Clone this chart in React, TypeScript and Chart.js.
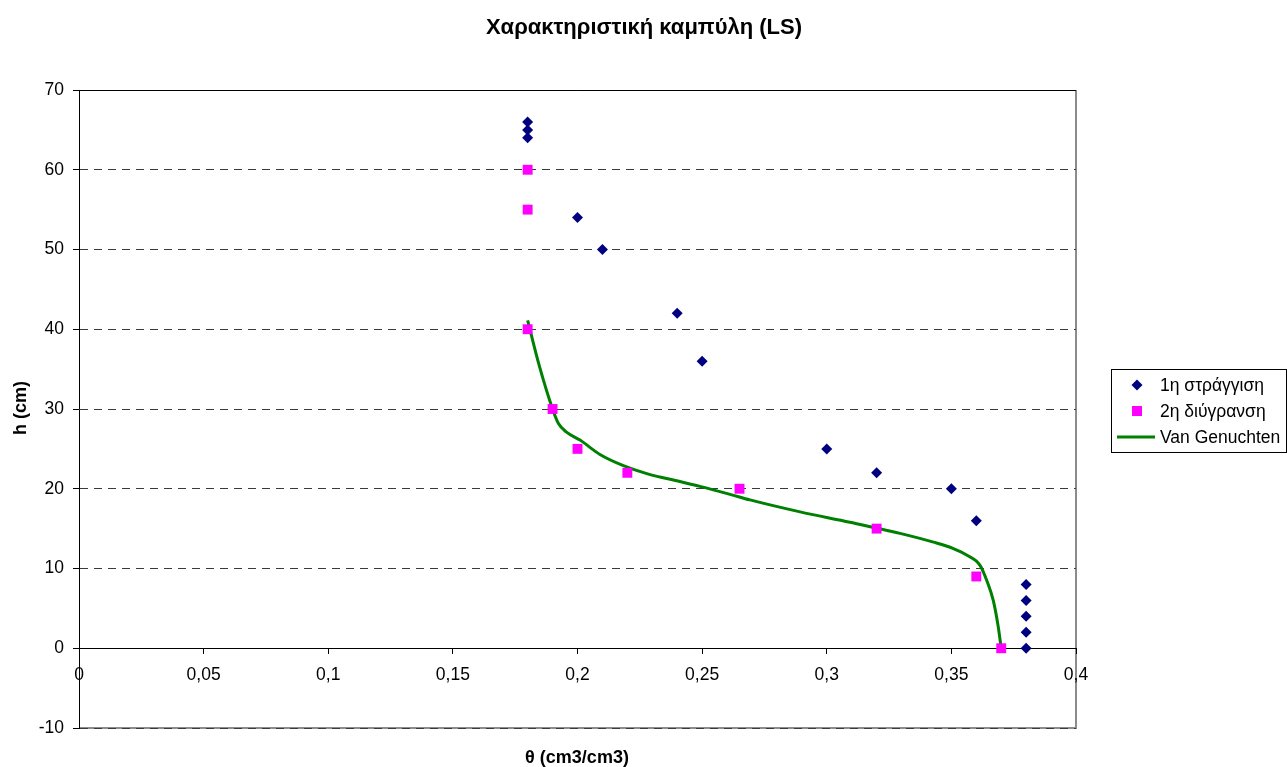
import React, { useEffect, useRef } from "react";
import { Chart, registerables } from "chart.js";

Chart.register(...registerables);

const FONT = "'Liberation Sans', Arial, sans-serif";

const titleText = "Χαρακτηριστική καμπύλη (LS)";
const xTitle = "θ (cm3/cm3)";
const yTitle = "h (cm)";

const seriesNames = ["1η στράγγιση", "2η διύγρανση", "Van Genuchten"];

// 1η στράγγιση
const drainTheta = [0.18, 0.18, 0.18, 0.2, 0.21, 0.24, 0.25, 0.3, 0.32, 0.35, 0.36, 0.38, 0.38, 0.38, 0.38, 0.38];
const drainH = [66, 65, 64, 54, 50, 42, 36, 25, 22, 20, 16, 8, 6, 4, 2, 0];

// 2η διύγρανση
const wetTheta = [0.18, 0.18, 0.18, 0.19, 0.2, 0.22, 0.265, 0.32, 0.36, 0.37];
const wetH = [60, 55, 40, 30, 25, 22, 20, 15, 9, 0];

// Van Genuchten fitted curve
const vgTheta = [0.18, 0.1846, 0.19, 0.1923, 0.1956, 0.201, 0.209, 0.2184, 0.2278, 0.2411, 0.2491, 0.2612, 0.2692, 0.2893, 0.3093, 0.3294, 0.3428, 0.3508, 0.3561, 0.3615, 0.3642, 0.3668, 0.3688, 0.3699];
const vgH = [41.1, 35.5, 30.0, 28.2, 27.1, 26.1, 24.3, 22.9, 21.9, 20.9, 20.3, 19.3, 18.6, 17.1, 15.8, 14.4, 13.3, 12.5, 11.7, 10.4, 8.5, 6.0, 2.7, 0.2];

const xMin = 0, xMax = 0.4, xStep = 0.05;
const yMin = -10, yMax = 70, yStep = 10;

const colors = ["#000080", "#FF00FF", "#008000"];

const toPts = (xs: number[], ys: number[]) => xs.map((x, i) => ({ x, y: ys[i] }));

const decoPlugin = {
  id: "deco",
  beforeDraw(chart: any) {
    const { ctx, chartArea } = chart;
    const { left, right, top, bottom } = chartArea;
    ctx.save();
    ctx.strokeStyle = "#8c8c8c";
    ctx.lineWidth = 2;
    ctx.beginPath();
    ctx.moveTo(Math.round(right), top);
    ctx.lineTo(Math.round(right), bottom + 1);
    ctx.moveTo(left, Math.round(bottom));
    ctx.lineTo(right, Math.round(bottom));
    ctx.stroke();
    ctx.restore();
  },
  beforeDatasetsDraw(chart: any) {
    const { ctx, chartArea } = chart;
    const { left, right, top } = chartArea;
    ctx.save();
    ctx.lineWidth = 1;
    ctx.strokeStyle = "#000";
    ctx.beginPath();
    ctx.moveTo(left, Math.round(top) + 0.5);
    ctx.lineTo(right, Math.round(top) + 0.5);
    ctx.stroke();
    ctx.restore();
  },
  afterDraw(chart: any) {
    const { ctx } = chart;
    ctx.save();
    ctx.fillStyle = "#000";
    ctx.textAlign = "center";
    ctx.textBaseline = "middle";
    ctx.font = `bold 22px ${FONT}`;
    ctx.fillText(titleText, 644, 28);
    ctx.font = `bold 18px ${FONT}`;
    ctx.fillText(xTitle, 577, 758);
    ctx.save();
    ctx.translate(21, 408);
    ctx.rotate(-Math.PI / 2);
    ctx.fillText(yTitle, 0, 0);
    ctx.restore();

    // legend
    const lx = 1111.5, ly = 369.5, lw = 175, lh = 83;
    ctx.strokeStyle = "#000";
    ctx.lineWidth = 1;
    ctx.strokeRect(lx, ly, lw, lh);
    ctx.font = `17.5px ${FONT}`;
    ctx.textAlign = "left";
    const rows = [385, 411, 437];
    const mx = 1137;
    seriesNames.forEach((name, i) => {
      const ry = rows[i];
      ctx.fillStyle = colors[i];
      if (i === 0) {
        ctx.beginPath();
        ctx.moveTo(mx, ry - 5.5);
        ctx.lineTo(mx + 5.5, ry);
        ctx.lineTo(mx, ry + 5.5);
        ctx.lineTo(mx - 5.5, ry);
        ctx.closePath();
        ctx.fill();
      } else if (i === 1) {
        ctx.fillRect(mx - 5, ry - 5, 10, 10);
      } else {
        ctx.strokeStyle = colors[i];
        ctx.lineWidth = 3;
        ctx.beginPath();
        ctx.moveTo(1117, ry);
        ctx.lineTo(1155, ry);
        ctx.stroke();
      }
      ctx.fillStyle = "#000";
      ctx.fillText(name, 1160, ry + 1);
    });
    ctx.restore();
  },
};

export default function App() {
  const ref = useRef<HTMLCanvasElement | null>(null);
  useEffect(() => {
    document.body.style.margin = "0";
    const canvas = ref.current;
    if (!canvas) return;
    const chart = new Chart(canvas, {
      type: "scatter",
      data: {
        datasets: [
          {
            label: seriesNames[0],
            data: toPts(drainTheta, drainH),
            backgroundColor: colors[0],
            borderColor: colors[0],
            pointStyle: "rectRot",
            pointRadius: 5.5,
            borderWidth: 0,
            showLine: false,
          },
          {
            label: seriesNames[1],
            data: toPts(wetTheta, wetH),
            backgroundColor: colors[1],
            borderColor: colors[1],
            pointStyle: "rect",
            pointRadius: 7,
            borderWidth: 0,
            showLine: false,
          },
          {
            label: seriesNames[2],
            data: toPts(vgTheta, vgH),
            borderColor: colors[2],
            backgroundColor: colors[2],
            borderWidth: 3,
            pointRadius: 0,
            showLine: true,
            cubicInterpolationMode: "monotone",
          } as any,
        ],
      },
      options: {
        responsive: false,
        animation: false,
        events: [],
        layout: { padding: { top: 90, right: 211, bottom: 39, left: 0 } },
        plugins: {
          legend: { display: false },
          title: { display: false },
          tooltip: { enabled: false },
        },
        scales: {
          x: {
            type: "linear",
            position: { y: 0 } as any,
            min: xMin,
            max: xMax,
            ticks: {
              stepSize: xStep,
              color: "#000",
              font: { family: FONT, size: 17.5 },
              padding: 11,
              maxRotation: 0,
              callback: (v: any) => String(Math.round(Number(v) * 100) / 100).replace(".", ","),
            },
            grid: {
              drawOnChartArea: false,
              drawTicks: true,
              tickLength: 5,
              color: "#000",
              tickColor: "#000",
            },
            border: { display: true, color: "#000", width: 1 },
          },
          y: {
            type: "linear",
            min: yMin,
            max: yMax,
            afterFit: (s: any) => {
              s.width = 79;
            },
            ticks: {
              stepSize: yStep,
              color: "#000",
              font: { family: FONT, size: 17.5 },
              padding: 9,
            },
            grid: {
              drawOnChartArea: true,
              drawTicks: true,
              tickLength: 6,
              color: (c: any) => (c.tick && c.tick.value === 0 ? "rgba(0,0,0,0)" : "#3a3a3a"),
              tickColor: "#000",
              tickBorderDash: [],
              lineWidth: 1,
            } as any,
            border: { display: true, color: "#000", width: 1, dash: [8, 6] } as any,
          },
        },
      },
      plugins: [decoPlugin],
    });
    return () => chart.destroy();
  }, []);
  return (
    <div style={{ width: 1287, height: 767 }}>
      <canvas ref={ref} width={1287} height={767} />
    </div>
  );
}
